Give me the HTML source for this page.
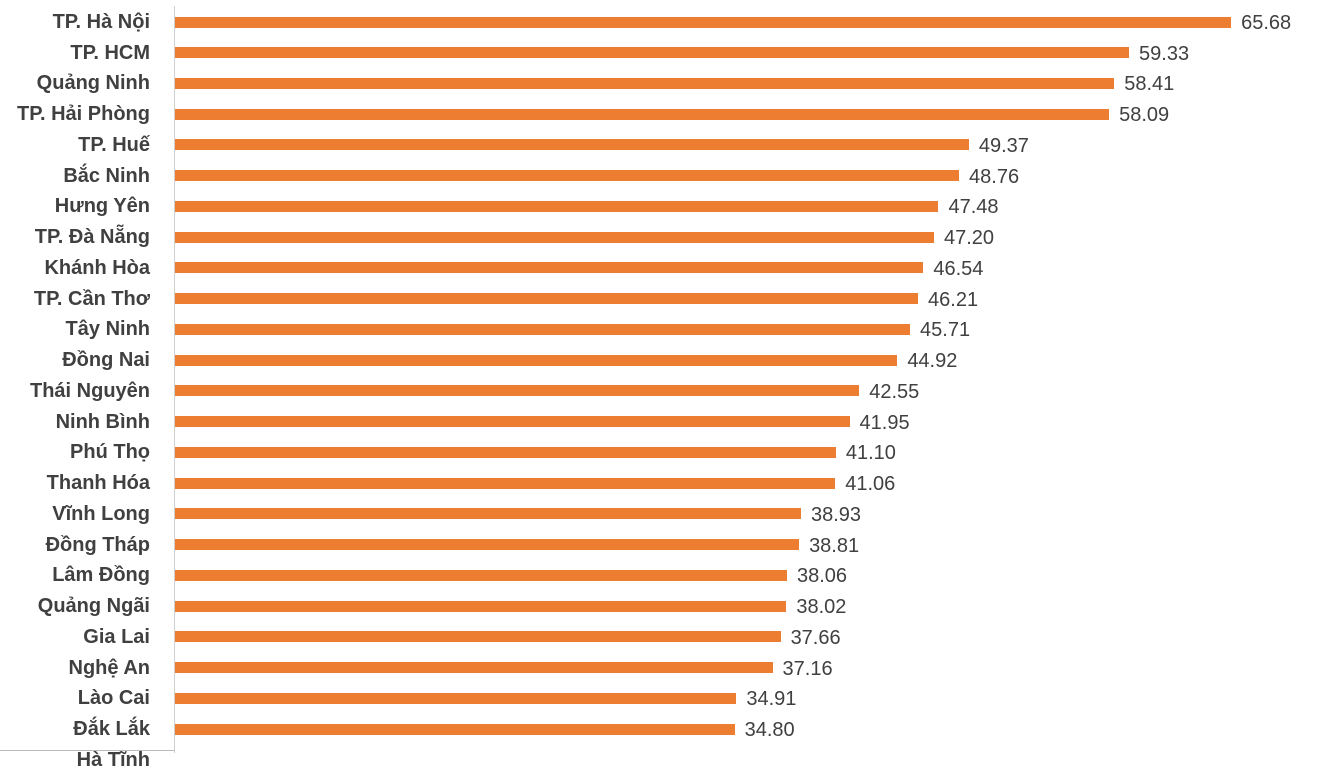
<!DOCTYPE html>
<html><head><meta charset="utf-8"><style>
body{margin:0;width:1339px;height:753px;overflow:hidden;background:#fff;font-family:"Liberation Sans",sans-serif;position:relative}
.l{position:absolute;right:1189px;font-weight:bold;font-size:20px;color:#404040;white-space:nowrap;line-height:24px}
.b{position:absolute;left:175px;height:11px;background:#ED7D31}
.v{position:absolute;font-size:20px;color:#404040;line-height:24px}
</style></head><body>
<div style="position:absolute;left:174px;top:6px;width:1px;height:747px;background:#d0d0d0"></div>
<div style="position:absolute;left:0;top:750px;width:175px;height:1px;background:#bbb"></div>
<script>
var d=[["TP. Hà Nội",65.68],["TP. HCM",59.33],["Quảng Ninh",58.41],["TP. Hải Phòng",58.09],["TP. Huế",49.37],["Bắc Ninh",48.76],["Hưng Yên",47.48],["TP. Đà Nẵng",47.20],["Khánh Hòa",46.54],["TP. Cần Thơ",46.21],["Tây Ninh",45.71],["Đồng Nai",44.92],["Thái Nguyên",42.55],["Ninh Bình",41.95],["Phú Thọ",41.10],["Thanh Hóa",41.06],["Vĩnh Long",38.93],["Đồng Tháp",38.81],["Lâm Đồng",38.06],["Quảng Ngãi",38.02],["Gia Lai",37.66],["Nghệ An",37.16],["Lào Cai",34.91],["Đắk Lắk",34.80],["Hà Tĩnh",null]];
var h="";d.forEach(function(r,i){var c=22+i*30.74;h+='<div class="l" style="top:'+(c-12)+'px">'+r[0]+'</div>';if(r[1]!==null){var w=r[1]*16.08;h+='<div class="b" style="top:'+(c-5.5)+'px;width:'+w+'px"></div><div class="v" style="left:'+(175+w+10)+'px;top:'+(c-11)+'px">'+r[1].toFixed(2)+'</div>';}});
document.write(h);
</script>
</body></html>
